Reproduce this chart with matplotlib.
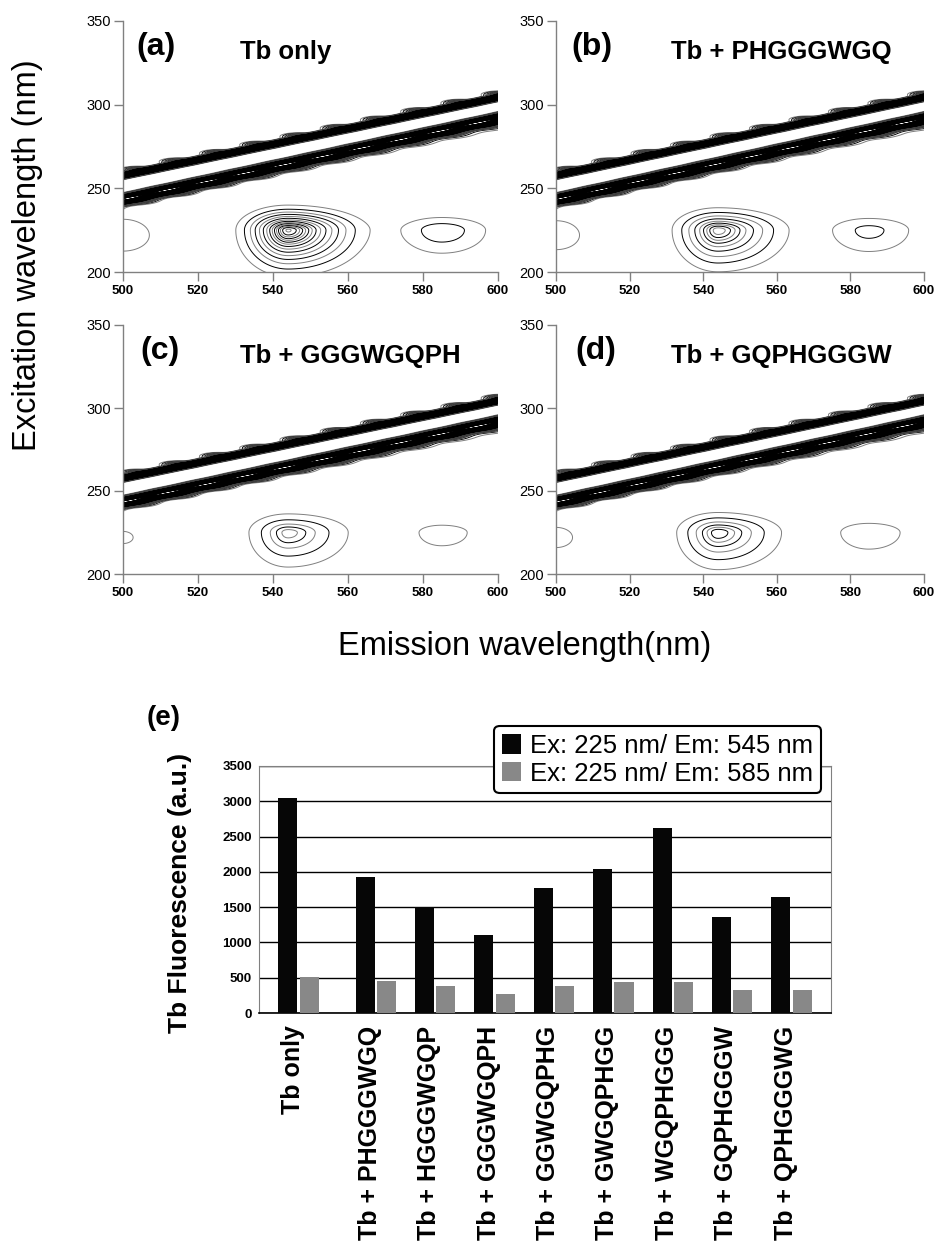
import numpy as np
import matplotlib.pyplot as plt
from matplotlib.patches import Patch

plt.rcParams['font.family'] = ['Liberation Sans', 'DejaVu Sans']

# ---- (e) bar chart values ----
peptides = ['Tb only', 'Tb + PHGGGWGQ', 'Tb + HGGGWGQP', 'Tb + GGGWGQPH', 'Tb + GGWGQPHG',
            'Tb + GWGQPHGG', 'Tb + WGQPHGGG', 'Tb + GQPHGGGW', 'Tb + QPHGGGWG']
em545 = [3040, 1925, 1500, 1110, 1775, 2035, 2625, 1355, 1650]
em585 = [515, 450, 380, 275, 380, 440, 440, 330, 330]
legend_labels = ['Ex: 225 nm/ Em: 545 nm', 'Ex: 225 nm/ Em: 585 nm']

# ---- (a)-(d) excitation-emission maps ----
panel_tags = ['(a)', '(b)', '(c)', '(d)']
panel_names = ['Tb only', 'Tb + PHGGGWGQ', 'Tb + GGGWGQPH', 'Tb + GQPHGGGW']
peak545 = [3040, 1925, 1110, 1355]      # intensity at ex 225 / em 545
peak585 = [515, 450, 275, 330]          # intensity at ex 225 / em 585
edge490 = [380, 340, 220, 260]          # tail of the 490 nm band at the left edge
# scatter bands: ex at em=500, slope, amplitude
band_start = [257.7, 243.5]
band_slope = [0.466, 0.484]
band_amp = [19700, 19700]


def eem_field(E, X, i):
    Z = np.zeros_like(E)
    # Tb 545 nm band: broad part + sharp core
    for frac, k in [(0.65, 1.0), (0.35, 0.35)]:
        se = np.where(E < 544, 6.5, 10.0) * k
        sx = np.where(X < 225, 13.0, 7.0) * k
        Z += frac * peak545[i] * np.exp(-0.5 * (((E - 544) / se) ** 2 + ((X - 225) / sx) ** 2))
    # Tb 585 nm band
    se = np.where(E < 585, 7.5, 8.5)
    sx = np.where(X < 225, 10.0, 5.5)
    Z += peak585[i] * np.exp(-0.5 * (((E - 585) / se) ** 2 + ((X - 225) / sx) ** 2))
    # 490 nm band tail
    Z += edge490[i] * np.exp(-0.5 * (((E - 500) / 6.2) ** 2 + ((X - 222) / 8.4) ** 2))
    # scatter bands
    for b in range(2):
        c = band_start[b] + band_slope[b] * (E - 500)
        d = X - c
        if b == 0:
            prof = np.exp(-0.5 * (d / 0.85) ** 2)
        else:
            tau = 1.0 + 2.5 * (E - 500) / 100
            prof = np.where(d > 0, np.exp(-0.5 * (d / 1.3) ** 2),
                            np.exp(-0.5 * (d / 1.6) ** 2) + 0.06 * np.exp(d / tau))
        Z += band_amp[b] * prof
        # ripples left by the 5 nm excitation steps
        for exn in np.arange(235, 320, 5):
            emn = 500 + (exn - band_start[b]) / band_slope[b]
            if b == 0:
                Z += 2600 * np.exp(-0.5 * (((E - emn + 1.0) / 2.2) ** 2 + ((X - exn - 1.0) / 1.0) ** 2))
            else:
                Z += 2600 * np.exp(-0.5 * (((E - emn) / 3.0) ** 2 + ((X - exn + 1.6) / 1.4) ** 2))
    return Z


W, H = 936, 1246
fig = plt.figure(figsize=(W / 100, H / 100), dpi=100)


def rect(l, t, r, b):
    return [l / W, 1 - b / H, (r - l) / W, (b - t) / H]


boxes = [(123, 21, 498, 272), (556, 21, 924, 272), (123, 325, 498, 574), (556, 325, 924, 574)]
em = np.arange(500, 600.01, 0.5)
ex = np.arange(195, 350.01, 0.25)
E, X = np.meshgrid(em, ex)
levels = np.arange(200, 20001, 200)
line_colors = ['#7f7f7f' if (k % 2 == 0 and lv <= 3200) else 'black' for k, lv in enumerate(levels)]

for i, bx in enumerate(boxes):
    ax = fig.add_axes(rect(*bx))
    Z = eem_field(E, X, i)
    ax.contour(E, X, Z, levels=levels, colors=line_colors, linewidths=0.7)
    ax.set_xlim(500, 600)
    ax.set_ylim(200, 350)
    ax.set_xticks(range(500, 601, 20))
    ax.set_yticks(range(200, 351, 50))
    for s in ['top', 'right']:
        ax.spines[s].set_visible(False)
    for s in ['left', 'bottom']:
        ax.spines[s].set_color('#808080')
        ax.spines[s].set_linewidth(1)
    ax.tick_params(direction='out', length=6.5, width=1, color='#808080')
    ax.tick_params(axis='x', labelsize=9.5, pad=3)
    ax.tick_params(axis='y', labelsize=10.5, pad=2)
    for lab in ax.get_xticklabels():
        lab.set_fontweight('bold')
    ax.text(0.035 + 0.006 * i, 0.895, panel_tags[i], transform=ax.transAxes, fontsize=23,
            fontweight='bold', ha='left', va='center')
    ax.text(0.312, 0.875, panel_names[i], transform=ax.transAxes, fontsize=18.5,
            fontweight='bold', ha='left', va='center')

fig.text(28 / W, 1 - 255 / H, 'Excitation wavelength (nm)', rotation=90,
         ha='center', va='center', fontsize=23.5)
fig.text(525 / W, 1 - 646 / H, 'Emission wavelength(nm)', ha='center', va='center', fontsize=23.5)

# ---- (e) ----
ax = fig.add_axes(rect(259, 766, 831, 1013))
n = len(peptides)
xs = np.arange(n) + np.where(np.arange(n) > 0, 0.3, 0.0)
ax.bar(xs - 0.18, em545, 0.32, color='#060606', zorder=3)
ax.bar(xs + 0.18, em585, 0.32, color='#888888', zorder=3)
ax.set_xlim(-0.665, xs[-1] + 0.665)
ax.set_ylim(0, 3500)
ax.set_yticks(range(0, 3501, 500))
ax.yaxis.grid(True, color='black', linewidth=1)
ax.set_axisbelow(True)
ax.set_xticks(xs - 0.1)
ax.set_xticklabels(peptides, rotation=90, fontsize=18, fontweight='bold', va='top', ha='center')
ax.tick_params(axis='x', length=0, pad=9)
ax.tick_params(axis='y', length=0, pad=5, labelsize=9.5)
for lab in ax.get_yticklabels():
    lab.set_fontweight('bold')
for s in ['top', 'right', 'left']:
    ax.spines[s].set_color('#808080')
ax.spines['bottom'].set_color('black')
ax.spines['bottom'].set_linewidth(1.2)

handles = [Patch(facecolor='#060606'), Patch(facecolor='#888888')]
leg = ax.legend(handles, legend_labels, loc='upper right', bbox_to_anchor=(0.983, 1.162),
                fontsize=18.5, frameon=True, fancybox=True, edgecolor='black', framealpha=1,
                handlelength=0.75, handleheight=0.8, handletextpad=0.35, borderpad=0.3,
                labelspacing=0.15, borderaxespad=0)
leg.get_frame().set_linewidth(1.5)
leg.set_zorder(5)

fig.text(164 / W, 1 - 718 / H, '(e)', fontsize=20, fontweight='bold', ha='center', va='center')
fig.text(180 / W, 1 - 893 / H, 'Tb Fluorescence (a.u.)', rotation=90, fontsize=19,
         fontweight='bold', ha='center', va='center')

fig.savefig('out.png', dpi=100)
